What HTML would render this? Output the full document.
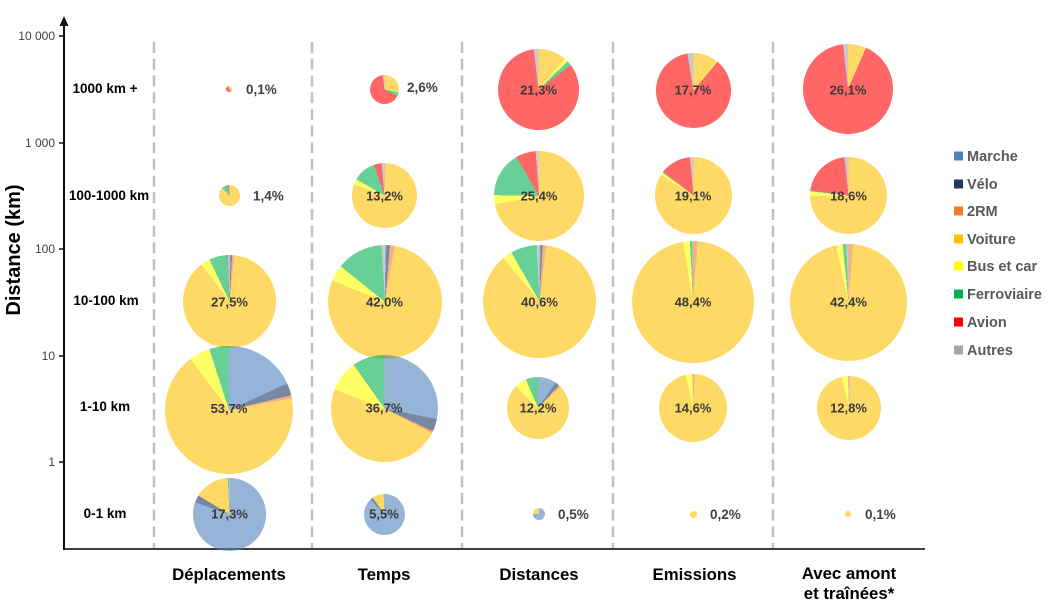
<!DOCTYPE html>
<html><head><meta charset="utf-8">
<style>
html,body{margin:0;padding:0;background:#fff;}
#c{position:relative;width:1049px;height:605px;overflow:hidden;background:#fff;font-family:"Liberation Sans",sans-serif;}
svg{position:absolute;left:0;top:0;}
.p{position:absolute;border-radius:50%;opacity:0.6;}
</style></head><body><div id="c">
<svg width="1049" height="605" viewBox="0 0 1049 605">
  <g stroke="#c0c0c0" stroke-width="2.5" stroke-dasharray="11 5.7">
    <line x1="154" y1="42" x2="154" y2="548"/>
    <line x1="312" y1="42" x2="312" y2="548"/>
    <line x1="462" y1="42" x2="462" y2="548"/>
    <line x1="613" y1="42" x2="613" y2="548"/>
    <line x1="773" y1="42" x2="773" y2="548"/>
  </g>
  <line x1="64" y1="549" x2="925" y2="549" stroke="#404040" stroke-width="2"/>
  <line x1="64" y1="550" x2="64" y2="24" stroke="#111" stroke-width="2"/>
  <polygon points="64,16 59.5,26 68.5,26" fill="#111"/>
  <g stroke="#111" stroke-width="1.5">
    <line x1="59" y1="36" x2="64" y2="36"/>
    <line x1="59" y1="143" x2="64" y2="143"/>
    <line x1="59" y1="249" x2="64" y2="249"/>
    <line x1="59" y1="356" x2="64" y2="356"/>
    <line x1="59" y1="462" x2="64" y2="462"/>
  </g>
</svg>

<!-- Déplacements -->
<div class="p" style="left:226px;top:86px;width:6px;height:6px;background:conic-gradient(#ffc000 0 35%,#ff0000 35% 95%,#a6a6a6 95%)"></div>
<div class="p" style="left:219px;top:185px;width:21px;height:21px;background:conic-gradient(#ffc000 0 86%,#ffff00 86% 87%,#00b050 87% 96%,#ff0000 96% 99%,#a6a6a6 99%)"></div>
<div class="p" style="left:183px;top:255px;width:93px;height:93px;background:conic-gradient(#4f81bd 0 0.4%,#1f3864 0.4% 0.9%,#ed7d31 0.9% 1.7%,#ffc000 1.7% 89.7%,#ffff00 89.7% 92.9%,#00b050 92.9% 99.2%,#ff0000 99.2% 99.4%,#a6a6a6 99.4%)"></div>
<div class="p" style="left:165px;top:346px;width:128px;height:128px;background:conic-gradient(#4f81bd 0 18.2%,#1f3864 18.2% 21.3%,#ed7d31 21.3% 22.1%,#ffc000 22.1% 89.7%,#ffff00 89.7% 95%,#00b050 95%)"></div>
<div class="p" style="left:193px;top:477.5px;width:73px;height:73px;background:conic-gradient(#4f81bd 0 80.5%,#1f3864 80.5% 83.7%,#ffc000 83.7% 99.2%,#00b050 99.2% 99.7%,#a6a6a6 99.7%)"></div>

<!-- Temps -->
<div class="p" style="left:370px;top:75px;width:29px;height:29px;background:conic-gradient(#ffc000 0 27%,#ffff00 27% 28%,#00b050 28% 32.5%,#ff0000 32.5% 98%,#a6a6a6 98%)"></div>
<div class="p" style="left:352px;top:163px;width:65px;height:65px;background:conic-gradient(#ed7d31 0 0.5%,#ffc000 0.5% 80.5%,#ffff00 80.5% 83.3%,#00b050 83.3% 94.7%,#ff0000 94.7% 98.5%,#a6a6a6 98.5%)"></div>
<div class="p" style="left:327.5px;top:244.5px;width:114px;height:114px;background:conic-gradient(#4f81bd 0 0.4%,#1f3864 0.4% 1.4%,#ed7d31 1.4% 2.7%,#ffc000 2.7% 81.2%,#ffff00 81.2% 85.8%,#00b050 85.8% 99%,#a6a6a6 99%)"></div>
<div class="p" style="left:330.5px;top:355px;width:107px;height:107px;background:conic-gradient(#4f81bd 0 28.2%,#1f3864 28.2% 32%,#ed7d31 32% 32.7%,#ffc000 32.7% 80.8%,#ffff00 80.8% 90.2%,#00b050 90.2%)"></div>
<div class="p" style="left:363.5px;top:493.5px;width:41px;height:41px;background:conic-gradient(#4f81bd 0 88.3%,#1f3864 88.3% 90.3%,#ffc000 90.3% 99.3%,#00b050 99.3%)"></div>

<!-- Distances -->
<div class="p" style="left:498px;top:49px;width:81px;height:81px;background:conic-gradient(#ffc000 0 11.3%,#ffff00 11.3% 12.7%,#00b050 12.7% 14.7%,#ff0000 14.7% 98.1%,#a6a6a6 98.1%)"></div>
<div class="p" style="left:494px;top:151px;width:90px;height:90px;background:conic-gradient(#ffc000 0 72%,#ffff00 72% 75.3%,#00b050 75.3% 91.7%,#ff0000 91.7% 98.8%,#a6a6a6 98.8%)"></div>
<div class="p" style="left:483px;top:245px;width:113px;height:113px;background:conic-gradient(#4f81bd 0 0.3%,#1f3864 0.3% 0.9%,#ed7d31 0.9% 1.9%,#ffc000 1.9% 88.9%,#ffff00 88.9% 91.7%,#00b050 91.7% 99.2%,#a6a6a6 99.2%)"></div>
<div class="p" style="left:507px;top:376.5px;width:62px;height:62px;background:conic-gradient(#4f81bd 0 9.7%,#1f3864 9.7% 11.9%,#ed7d31 11.9% 13%,#ffc000 13% 87.5%,#ffff00 87.5% 93.6%,#00b050 93.6%)"></div>
<div class="p" style="left:533px;top:508px;width:12px;height:12px;background:conic-gradient(#4f81bd 0 75%,#ffc000 75%)"></div>

<!-- Emissions -->
<div class="p" style="left:656px;top:52.5px;width:75px;height:75px;background:conic-gradient(#ffc000 0 10.5%,#ffff00 10.5% 11%,#ff0000 11% 97.4%,#a6a6a6 97.4%)"></div>
<div class="p" style="left:654.5px;top:157px;width:77px;height:77px;background:conic-gradient(#ffc000 0 84%,#ffff00 84% 85.2%,#00b050 85.2% 85.5%,#ff0000 85.5% 98.5%,#a6a6a6 98.5%)"></div>
<div class="p" style="left:632px;top:241px;width:122px;height:122px;background:conic-gradient(#ed7d31 0 1.2%,#ffc000 1.2% 97.4%,#ffff00 97.4% 99.2%,#00b050 99.2% 99.8%,#a6a6a6 99.8%)"></div>
<div class="p" style="left:659px;top:374px;width:68px;height:68px;background:conic-gradient(#ed7d31 0 0.8%,#ffc000 0.8% 96.5%,#ffff00 96.5% 99.6%,#a6a6a6 99.6%)"></div>
<div class="p" style="left:689.5px;top:510.5px;width:7px;height:7px;background:#ffc000"></div>

<!-- Avec amont -->
<div class="p" style="left:803px;top:44px;width:90px;height:90px;background:conic-gradient(#ffc000 0 6.3%,#ffff00 6.3% 6.5%,#ff0000 6.5% 98.2%,#a6a6a6 98.2%)"></div>
<div class="p" style="left:810px;top:157px;width:77px;height:77px;background:conic-gradient(#ffc000 0 74.7%,#ffff00 74.7% 76.7%,#00b050 76.7% 77.1%,#ff0000 77.1% 98.3%,#a6a6a6 98.3%)"></div>
<div class="p" style="left:790px;top:243.5px;width:117px;height:117px;background:conic-gradient(#ed7d31 0 1.2%,#ffc000 1.2% 96.6%,#ffff00 96.6% 98.4%,#00b050 98.4% 99.4%,#a6a6a6 99.4%)"></div>
<div class="p" style="left:816.5px;top:376px;width:64px;height:64px;background:conic-gradient(#ed7d31 0 0.6%,#ffc000 0.6% 96.4%,#ffff00 96.4% 99.4%,#a6a6a6 99.4%)"></div>
<div class="p" style="left:845px;top:511px;width:6px;height:6px;background:#ffc000"></div>

<svg width="1049" height="605" viewBox="0 0 1049 605">
  <!-- tick labels -->
  <g font-family="Liberation Sans, sans-serif" font-size="12" fill="#404040" text-anchor="end">
    <text x="55" y="40">10 000</text>
    <text x="55" y="147">1 000</text>
    <text x="55" y="253">100</text>
    <text x="55" y="360">10</text>
    <text x="55" y="466">1</text>
  </g>
  <text transform="translate(20,250) rotate(-90)" text-anchor="middle" font-family="Liberation Sans, sans-serif" font-size="20" font-weight="bold" fill="#000">Distance (km)</text>
  <!-- row labels -->
  <g font-family="Liberation Sans, sans-serif" font-size="13.5" font-weight="bold" fill="#000" text-anchor="middle">
    <text x="105" y="93">1000 km +</text>
    <text x="109" y="200">100-1000 km</text>
    <text x="106" y="305">10-100 km</text>
    <text x="105" y="411">1-10 km</text>
    <text x="105" y="518">0-1 km</text>
  </g>
  <!-- pie labels -->
  <g font-family="Liberation Sans, sans-serif" font-size="13" font-weight="bold" fill="#3a3a3a" text-anchor="middle">
    <text x="229.5" y="306.5">27,5%</text>
    <text x="229" y="413">53,7%</text>
    <text x="229.5" y="518.5">17,3%</text>
    <text x="384.5" y="200.5">13,2%</text>
    <text x="384.5" y="306.5">42,0%</text>
    <text x="384" y="412.5">36,7%</text>
    <text x="384" y="518.5">5,5%</text>
    <text x="538.5" y="94.5">21,3%</text>
    <text x="539" y="200.5">25,4%</text>
    <text x="539.5" y="306.5">40,6%</text>
    <text x="538" y="412.5">12,2%</text>
    <text x="693" y="94.5">17,7%</text>
    <text x="693" y="200.5">19,1%</text>
    <text x="693" y="306.5">48,4%</text>
    <text x="693" y="412.5">14,6%</text>
    <text x="848" y="94.5">26,1%</text>
    <text x="848.5" y="200.5">18,6%</text>
    <text x="848.5" y="306.5">42,4%</text>
    <text x="848.5" y="412.5">12,8%</text>
  </g>
  <g font-family="Liberation Sans, sans-serif" font-size="13.5" font-weight="bold" fill="#404040">
    <text x="246" y="94">0,1%</text>
    <text x="253" y="200.5">1,4%</text>
    <text x="407" y="92">2,6%</text>
    <text x="558" y="519">0,5%</text>
    <text x="710" y="519">0,2%</text>
    <text x="865" y="519">0,1%</text>
  </g>
  <!-- column labels -->
  <g font-family="Liberation Sans, sans-serif" font-size="16.8" font-weight="bold" fill="#000" text-anchor="middle">
    <text x="229" y="580">Déplacements</text>
    <text x="384" y="580">Temps</text>
    <text x="539" y="580">Distances</text>
    <text x="694.5" y="580">Emissions</text>
    <text x="849" y="579">Avec amont</text>
    <text x="849" y="599">et traînées*</text>
  </g>
  <!-- legend -->
  <g>
    <rect x="954" y="151.5" width="9" height="9" fill="#4f81bd"/>
    <rect x="954" y="179.5" width="9" height="9" fill="#1f3864"/>
    <rect x="954" y="206.5" width="9" height="9" fill="#ed7d31"/>
    <rect x="954" y="234.5" width="9" height="9" fill="#ffc000"/>
    <rect x="954" y="261.5" width="9" height="9" fill="#ffff00"/>
    <rect x="954" y="289.5" width="9" height="9" fill="#00b050"/>
    <rect x="954" y="317.5" width="9" height="9" fill="#ff0000"/>
    <rect x="954" y="345.5" width="9" height="9" fill="#a6a6a6"/>
  </g>
  <g font-family="Liberation Sans, sans-serif" font-size="14.5" font-weight="bold" fill="#595959">
    <text x="967" y="161">Marche</text>
    <text x="967" y="189">Vélo</text>
    <text x="967" y="216">2RM</text>
    <text x="967" y="244">Voiture</text>
    <text x="967" y="271">Bus et car</text>
    <text x="967" y="299">Ferroviaire</text>
    <text x="967" y="327">Avion</text>
    <text x="967" y="355">Autres</text>
  </g>
</svg>
</div></body></html>
